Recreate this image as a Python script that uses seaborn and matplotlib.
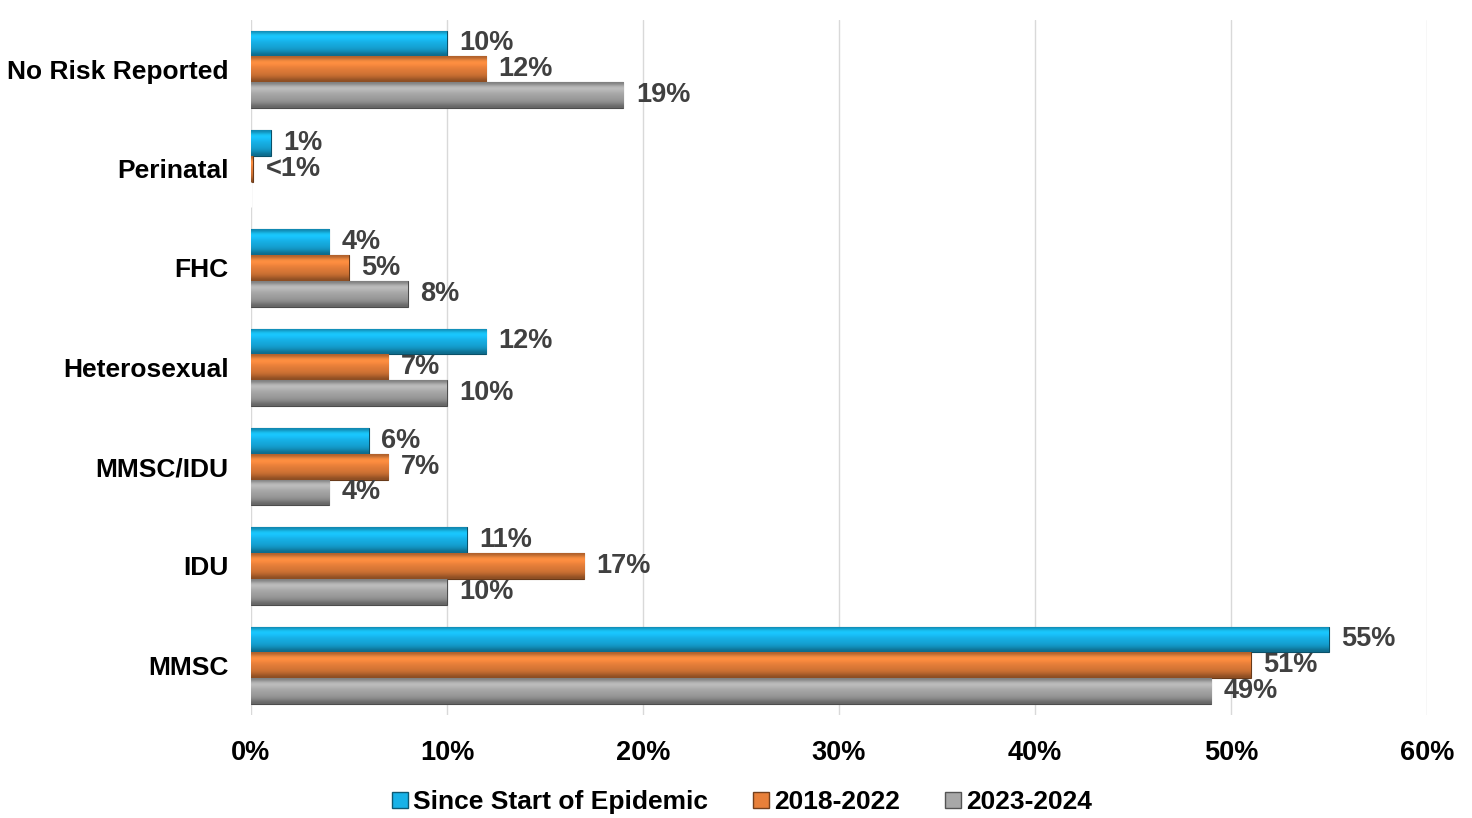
import numpy as np
import pandas as pd
import seaborn as sns
import matplotlib.pyplot as plt
from matplotlib.colors import to_rgb
from matplotlib.lines import Line2D

categories = ['No Risk Reported', 'Perinatal', 'FHC', 'Heterosexual', 'MMSC/IDU', 'IDU', 'MMSC']
series = ['Since Start of Epidemic', '2018-2022', '2023-2024']
since_start = [10, 1, 4, 12, 6, 11, 55]
y2018_2022 = [12, 0.1, 5, 7, 7, 17, 51]
y2023_2024 = [19, 0, 8, 10, 4, 10, 49]
labels_since = ['10%', '1%', '4%', '12%', '6%', '11%', '55%']
labels_1822 = ['12%', '<1%', '5%', '7%', '7%', '17%', '51%']
labels_2324 = ['19%', '', '8%', '10%', '4%', '10%', '49%']
colors = ['#17b2e8', '#e8803a', '#a8a8a8']

df = pd.DataFrame({
    'category': categories * 3,
    'series': [series[0]] * 7 + [series[1]] * 7 + [series[2]] * 7,
    'value': since_start + y2018_2022 + y2023_2024,
})

sns.set_style('white')
plt.rcParams['font.family'] = ['Liberation Sans', 'DejaVu Sans']
plt.rcParams['font.weight'] = 'bold'

fig = plt.figure(figsize=(14.72, 8.18), dpi=100)
ax = fig.add_axes([0.1705, 0.126, 0.7989, 0.85])

sns.barplot(data=df, y='category', x='value', hue='series', order=categories,
            hue_order=series, palette=colors, orient='h', width=0.78,
            saturation=1, legend=False, ax=ax)

# bevel-ish shading on each bar
def shade(patch, base):
    x0, y0 = patch.get_x(), patch.get_y()
    w, h = patch.get_width(), patch.get_height()
    if w <= 0:
        return
    rgb = np.array(to_rgb(base))
    prof = np.array([0.75, 1.15, 1.1, 1.0, 0.95, 0.9, 0.8, 0.6])
    img = np.clip(prof[:, None, None] * rgb[None, None, :], 0, 1)
    img = np.repeat(img, 2, axis=1)
    im = ax.imshow(img, extent=(x0, x0 + w, y0 + h, y0), aspect='auto',
                   interpolation='bicubic', zorder=patch.get_zorder() + 0.1)
    im.set_clip_path(patch)
    patch.set_edgecolor(tuple(rgb * 0.45))
    patch.set_linewidth(0.8)

for cont, col in zip(ax.containers, colors):
    for p in cont:
        shade(p, col)

for cont, labs in zip(ax.containers, [labels_since, labels_1822, labels_2324]):
    txts = ax.bar_label(cont, labels=labs, padding=9, fontsize=19.5, fontweight='bold',
                        color='#404040')
    for t in txts:
        t.set_y(t.get_position()[1])
        t.set_va('center')
        t.set_position((t.get_position()[0], t.get_position()[1]))

ax.set_xlim(0, 60)
ax.set_ylim(len(categories) - 0.5, -0.5)
ax.set_xticks(range(0, 61, 10))
ax.set_xticklabels([f'{t}%' for t in range(0, 61, 10)], fontsize=19.5, fontweight='bold')
ax.tick_params(axis='x', length=0, pad=18, labelcolor='black')
ax.tick_params(axis='y', length=0, pad=16, labelsize=19, labelcolor='black')
for t in ax.get_yticklabels():
    t.set_fontweight('bold')
ax.set_xlabel('')
ax.set_ylabel('')
ax.grid(axis='x', color='#d9d9d9', linewidth=1)
ax.set_axisbelow(True)
for s in ax.spines.values():
    s.set_visible(False)

handles = [Line2D([], [], marker='s', linestyle='', markersize=11, markerfacecolor=c,
                  markeredgecolor=tuple(np.array(to_rgb(c)) * 0.5)) for c in colors]
leg = fig.legend(handles, series, loc='center', bbox_to_anchor=(0.503, 0.019), ncol=3,
                 frameon=False, fontsize=19, handletextpad=0.1, columnspacing=1.6,
                 handlelength=0.8)
for t in leg.get_texts():
    t.set_color('black')

fig.savefig('out.png', dpi=100)
